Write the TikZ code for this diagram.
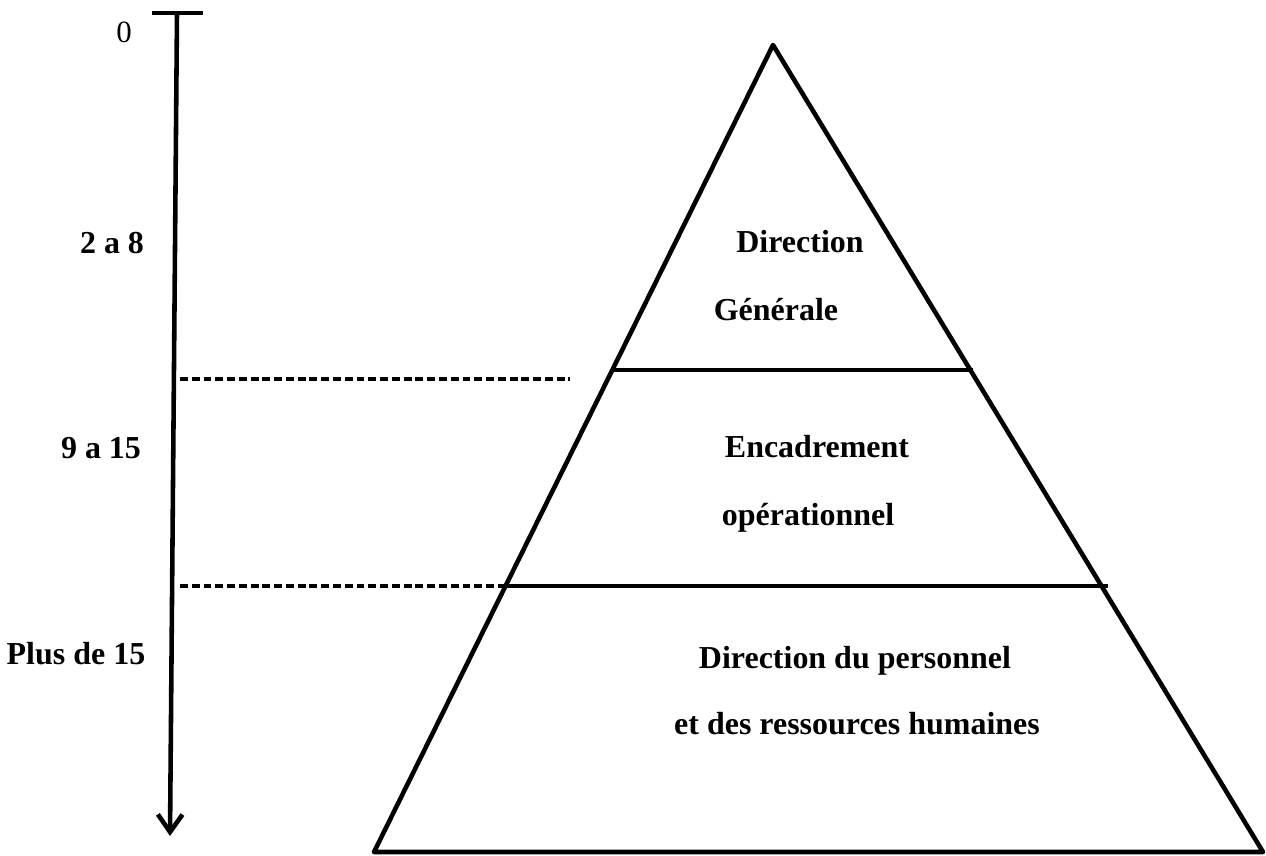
\documentclass[tikz,border=0pt]{standalone}
\usepackage{fontspec}
\setmainfont{Liberation Serif}
\usetikzlibrary{arrows.meta}
\begin{document}
\begin{tikzpicture}[x=0.02cm,y=-0.02cm,
  edge/.style={line width=2.6pt,line cap=round,line join=round},
  levelline/.style={line width=2.4pt},
  sep/.style={line width=2pt,dash pattern=on 4.5pt off 2.2pt},
  axis/.style={line width=2.6pt},
  lbl/.style={font=\fontsize{18.2}{20}\selectfont\bfseries,inner sep=0pt,anchor=base},
  tier/.style={font=\fontsize{18.2}{20}\selectfont\bfseries,inner sep=0pt,anchor=base}]
\useasboundingbox (0,0) rectangle (1266,855);
% pyramid outline
\coordinate (apex) at (773,45);
\coordinate (bl) at (374,852);
\coordinate (br) at (1263,852);
\draw[edge] (apex) -- (bl) -- (br) -- cycle;
% level boundaries
\coordinate (l1a) at (612,370);
\coordinate (l1b) at (973,370);
\coordinate (l2a) at (505,586);
\coordinate (l2b) at (1108,586);
\draw[levelline] (l1a) -- (l1b);
\draw[levelline] (l2a) -- (l2b);
% vertical scale
\coordinate (capL) at (152,13);
\coordinate (capR) at (203,13);
\coordinate (top) at (177,13);
\coordinate (bottom) at (170,836);
\draw[axis] (capL) -- (capR);
\draw[axis,-{Straight Barb[length=10pt,width=14pt,line width=2.6pt]}] (top) -- (bottom);
% dashed separators
\coordinate (d1a) at (180,379);
\coordinate (d1b) at (570,379);
\coordinate (d2a) at (180,586);
\coordinate (d2b) at (505,586);
\draw[sep] (d1a) -- (d1b);
\draw[sep] (d2a) -- (d2b);
% scale labels
\node[font=\fontsize{17.6}{20}\selectfont,inner sep=0pt,anchor=base] (zero) at (124,43) {0};
\node[lbl] (s1) at (112,253) {2 a 8};
\node[lbl] (s2) at (101,458) {9 a 15};
\node[lbl] (s3) at (76,664) {Plus de 15};
% tier labels
\node[tier] (t1a) at (800,252) {Direction};
\node[tier] (t1b) at (776,320) {Générale};
\node[tier] (t2a) at (817,457) {Encadrement};
\node[tier] (t2b) at (808,525) {opérationnel};
\node[tier] (t3a) at (855,668) {Direction du personnel};
\node[tier] (t3b) at (857,734) {et des ressources humaines};
\end{tikzpicture}
\end{document}
